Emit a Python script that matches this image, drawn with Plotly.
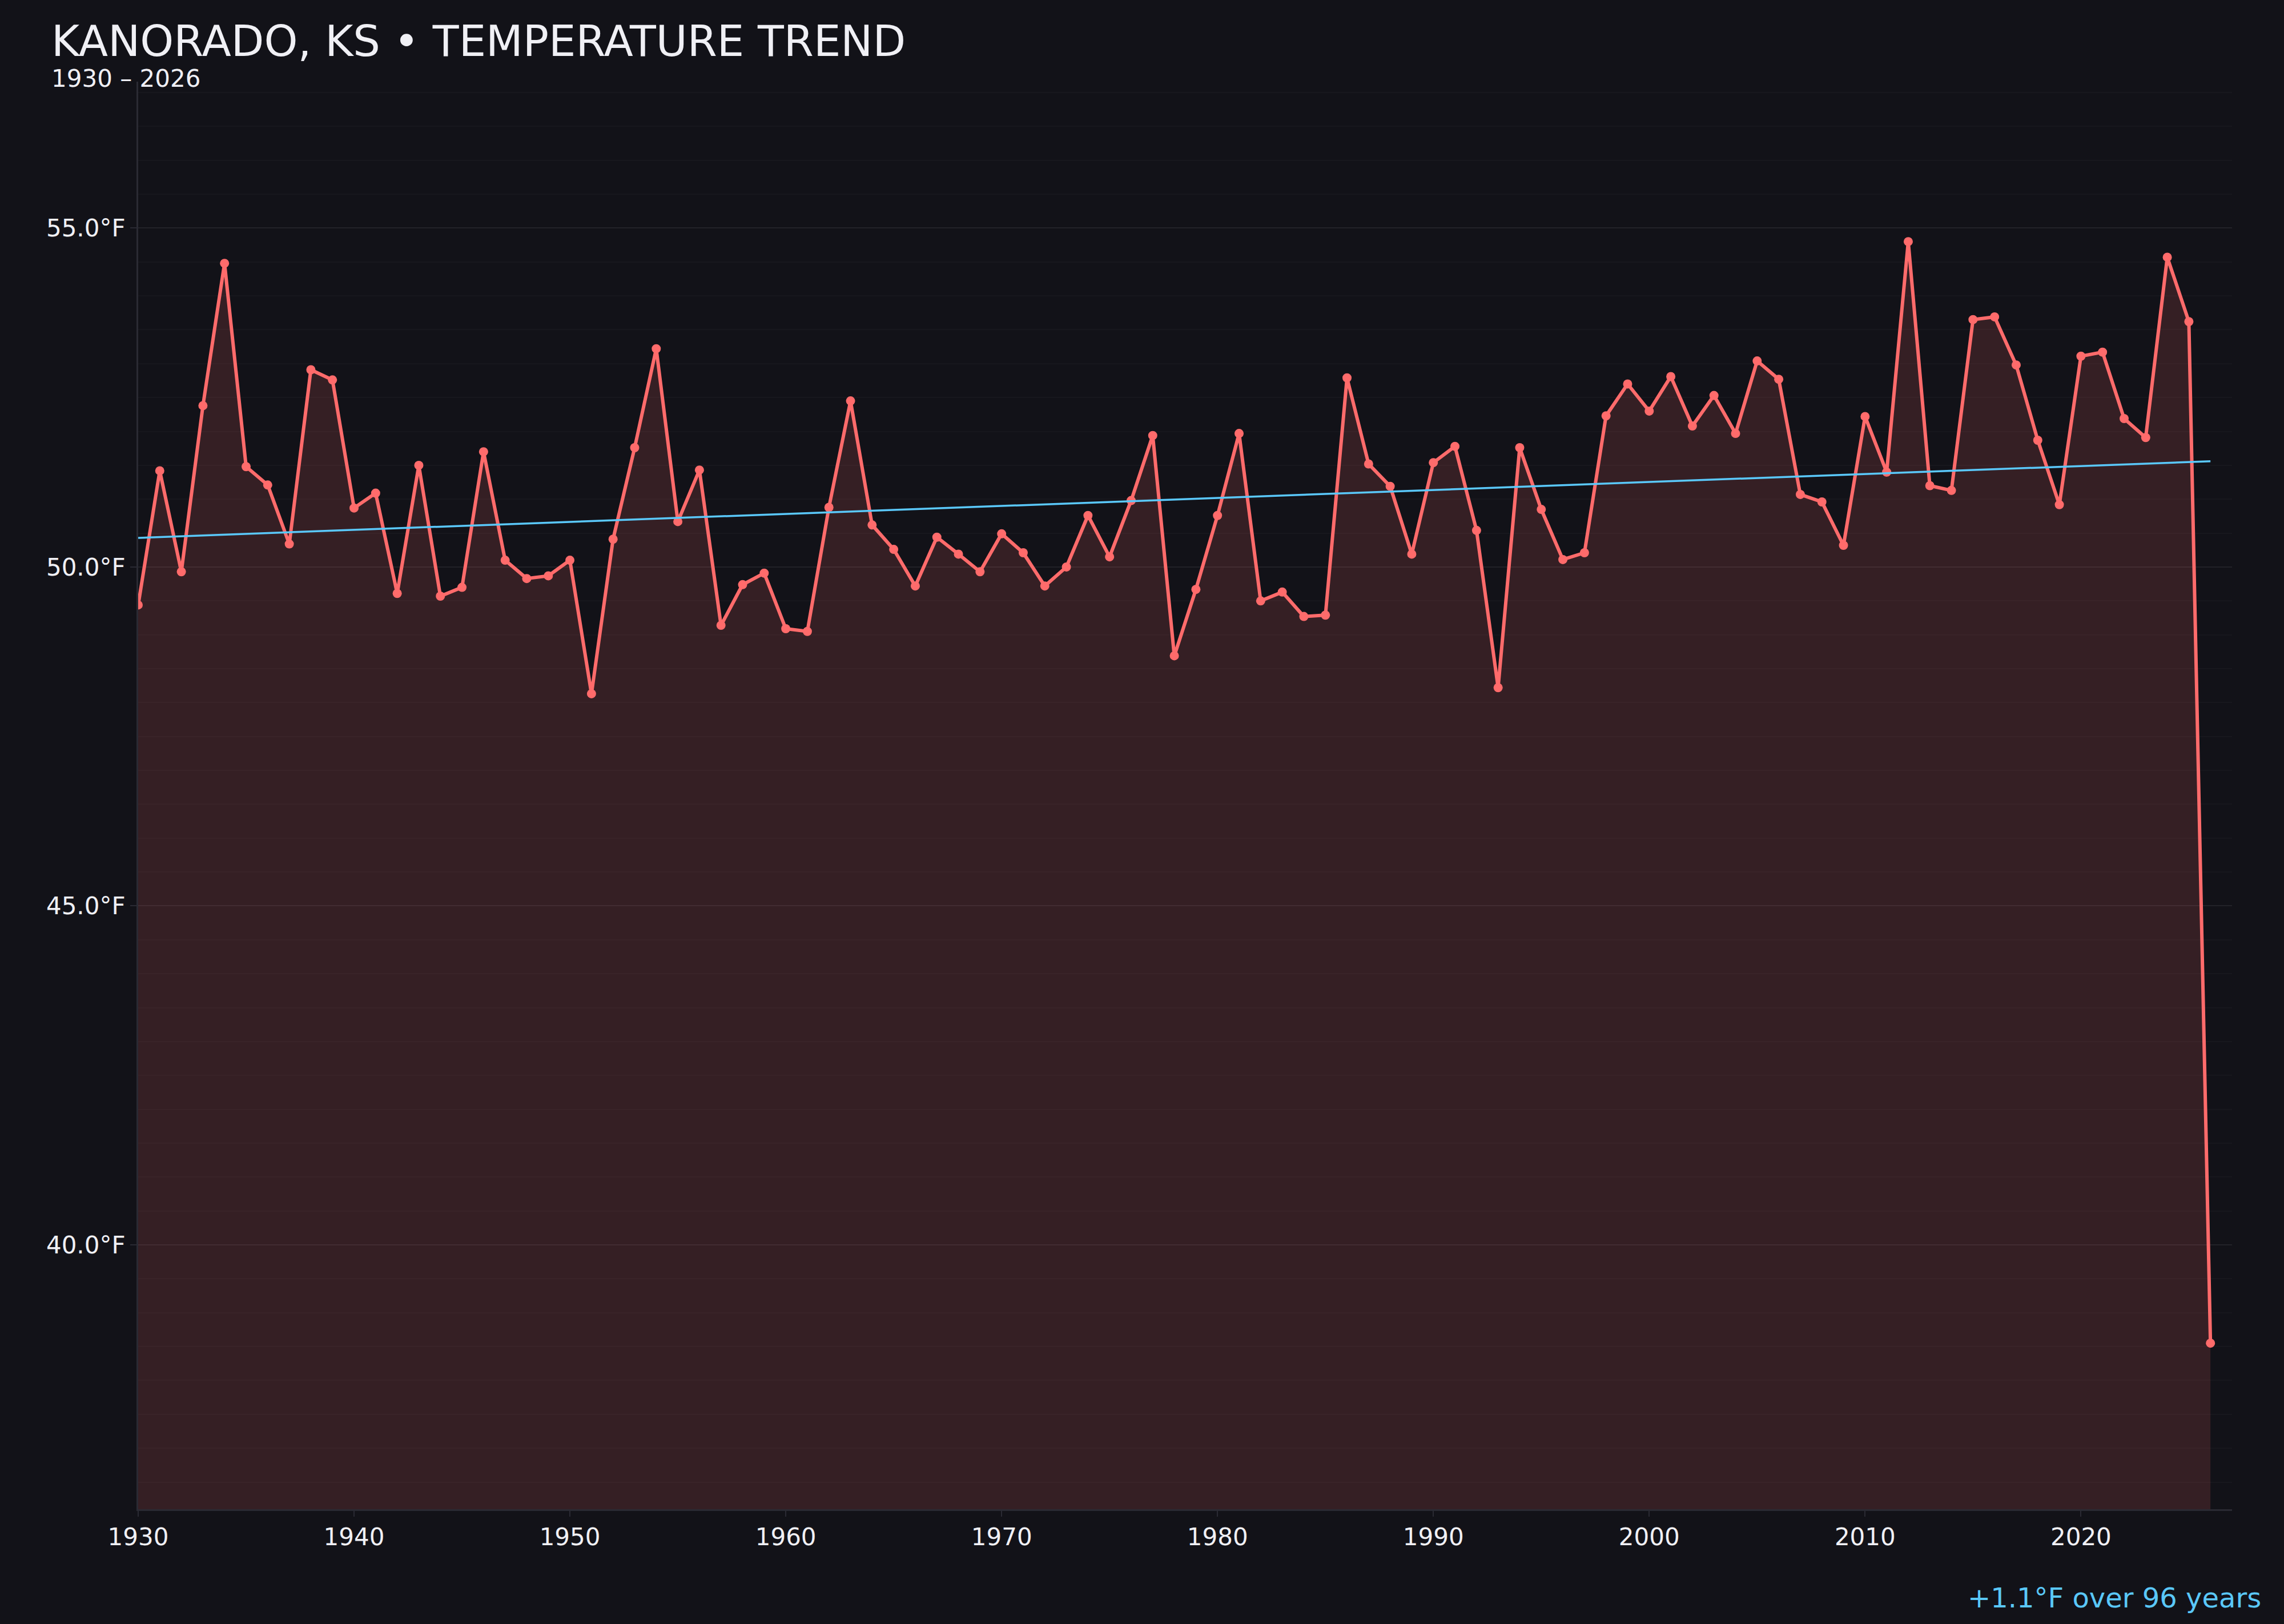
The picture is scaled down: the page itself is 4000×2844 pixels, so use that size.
#! /usr/bin/env python3

import plotly.graph_objects as go

years = list(range(1930, 2027))
temps_f = [
    49.44, 51.42, 49.93, 52.38, 54.48, 51.48, 51.21, 50.34, 52.91, 52.76,
    50.87, 51.09, 49.61, 51.50, 49.57, 49.70, 51.70, 50.10, 49.83, 49.87,
    50.10, 48.13, 50.41, 51.76, 53.22, 50.67, 51.43, 49.14, 49.74, 49.91,
    49.09, 49.05, 50.88, 52.45, 50.62, 50.26, 49.72, 50.44, 50.19, 49.93,
    50.49, 50.21, 49.72, 50.00, 50.76, 50.15, 50.98, 51.94, 48.69, 49.67,
    50.76, 51.97, 49.50, 49.63, 49.27, 49.29, 52.79, 51.52, 51.19, 50.19,
    51.54, 51.78, 50.54, 48.22, 51.76, 50.85, 50.11, 50.21, 52.23, 52.70,
    52.30, 52.81, 52.08, 52.53, 51.97, 53.04, 52.77, 51.07, 50.96, 50.32,
    52.22, 51.40, 54.80, 51.20, 51.13, 53.65, 53.69, 52.98, 51.87, 50.92,
    53.11, 53.17, 52.19, 51.91, 54.57, 53.62, 38.55,
]
trend_years = [1930, 2026]
trend_vals = [50.43, 51.56]

title = "KANORADO, KS • TEMPERATURE TREND"
subtitle = "1930 – 2026"
trend_note = "+1.1°F over 96 years"

BG = "#121218"
RED = "#ff6b6b"
BLUE = "#5ac8fa"
TEXT = "#f0f0f5"
FONT = "DejaVu Sans"

fig = go.Figure()
fig.add_trace(
    go.Scatter(
        x=years,
        y=temps_f,
        mode="lines+markers",
        line=dict(color=RED, width=6),
        marker=dict(color=RED, size=16),
        fill="tozeroy",
        fillcolor="rgba(255,107,107,0.15)",
        showlegend=False,
    )
)
fig.add_trace(
    go.Scatter(
        x=trend_years,
        y=trend_vals,
        mode="lines",
        line=dict(color=BLUE, width=3.5),
        showlegend=False,
    )
)

fig.update_layout(
    width=4000,
    height=2844,
    paper_bgcolor=BG,
    plot_bgcolor=BG,
    font=dict(family=FONT, color=TEXT, size=42),
    margin=dict(l=242, r=91, t=143, b=201),
    title=dict(
        text=title,
        font=dict(size=75, color=TEXT),
        xref="container",
        yref="container",
        x=90 / 4000,
        xanchor="left",
        y=1 - 72 / 2844,
        yanchor="middle",
    ),
    annotations=[
        dict(
            text=subtitle,
            xref="paper",
            yref="paper",
            x=-(242 - 88) / 3667,
            y=1 + 6 / 2500,
            xanchor="left",
            yanchor="middle",
            showarrow=False,
            font=dict(size=42, color=TEXT),
        ),
        dict(
            text=trend_note,
            xref="paper",
            yref="paper",
            x=1 + 53 / 3667,
            y=-155 / 2500,
            xanchor="right",
            yanchor="middle",
            showarrow=False,
            font=dict(size=48, color=BLUE),
        ),
    ],
)

fig.update_xaxes(
    range=[1930, 2027],
    dtick=10,
    tick0=1930,
    showgrid=False,
    zeroline=False,
    showline=True,
    linecolor="#2a2a33",
    linewidth=3,
    ticks="outside",
    ticklen=10,
    tickwidth=2,
    tickcolor="#2a2a33",
    tickfont=dict(size=42, color=TEXT),
)
fig.update_yaxes(
    range=[36.1, 57.16],
    dtick=5,
    tick0=0,
    tickformat=".1f",
    ticksuffix="°F",
    showgrid=True,
    gridcolor="rgba(255,255,255,0.07)",
    gridwidth=2,
    minor=dict(dtick=0.5, showgrid=True, gridcolor="rgba(255,255,255,0.025)", gridwidth=2),
    zeroline=False,
    showline=True,
    linecolor="#2a2a33",
    linewidth=3,
    ticks="outside",
    ticklen=11,
    tickwidth=2,
    tickcolor="#2a2a33",
    tickfont=dict(size=42, color=TEXT),
)

fig.write_html(
    "out.html",
    config={"displayModeBar": False},
    post_script="document.body.style.margin='0';document.body.style.background='#121218';",
)
